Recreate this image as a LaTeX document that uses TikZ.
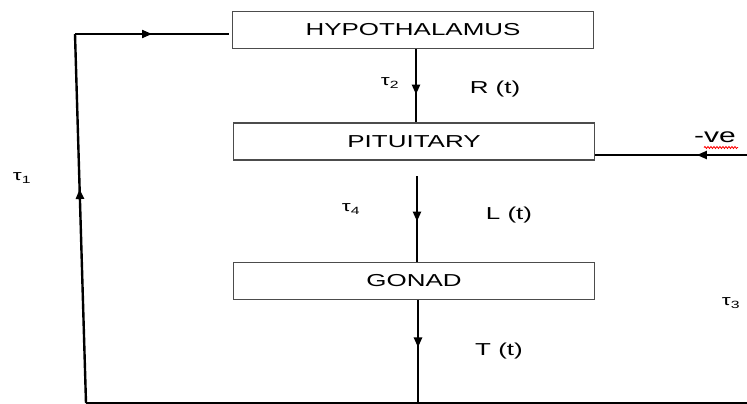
\documentclass[tikz,border=0pt]{standalone}
\usepackage{fontspec}
\setmainfont{Liberation Sans}[FakeStretch=1.5]
\usetikzlibrary{arrows.meta,decorations.markings,decorations.pathmorphing}
\begin{document}
\begin{tikzpicture}[x=1pt,y=-1pt,
  organ/.style={draw=black!70,line width=1.3pt,minimum width=361pt,minimum height=37pt,inner sep=0pt,font=\fontsize{17.3}{20}\selectfont},
  lbl/.style={inner sep=0pt,font=\fontsize{17.3}{20}\selectfont},
  tau/.style={inner sep=0pt,font=\fontsize{15}{17}\selectfont},
  conn/.style={line width=2.4pt,black},
  midarrow/.style={postaction={decorate},decoration={markings,
     mark=at position #1 with {\arrow{Triangle[length=10pt,width=8pt]}}}}]
\useasboundingbox (0,0) rectangle (747,404);
\node[organ] (hyp) at (413,30) {HYPOTHALAMUS};
\node[organ] (pit) at (414,141.5) {PITUITARY};
\node[organ] (gon) at (414,281) {GONAD};
\coordinate (tl) at (75,34);
\coordinate (bl) at (86,403);
\coordinate (br) at (747,403);
\coordinate (bm) at (418,403);
\coordinate (ps) at (417,176);
\coordinate (rin) at (747,155);
\coordinate (pr) at (595,155);
\coordinate (hl) at (229,34);
% connectors
\draw[conn,midarrow=0.62] (hyp.south -| 416,0) -- (pit.north -| 416,0);
\draw[conn,midarrow=0.53] (ps) -- (gon.north -| 417,0);
\draw[conn,midarrow=0.46] (gon.south -| 418,0) -- (bm);
\draw[line width=2pt] (bl) -- (br);
\draw[conn,midarrow=0.58] (bl) -- (tl);
\draw[line width=2pt,midarrow=0.5] (tl) -- (hl);
\draw[line width=2pt,midarrow=0.33] (rin) -- (pr);
% labels
\node[tau] (t1) at (22,178) {τ\textsubscript{1}};
\node[tau] (t2) at (390,83) {τ\textsubscript{2}};
\node[tau] (t3) at (731,303) {τ\textsubscript{3}};
\node[tau] (t4) at (351,209) {τ\textsubscript{4}};
\node[lbl] (rt) at (495,89) {R (t)};
\node[lbl] (lt) at (509,215) {L (t)};
\node[lbl] (tt) at (499,351) {T (t)};
\node[inner sep=0pt,font=\fontsize{20}{22}\selectfont] (ve) at (715,137) {-ve};
\draw[red,line width=0.8pt,decorate,decoration={snake,amplitude=1pt,segment length=3pt}] (704,147.5) -- (738,147.5);
\end{tikzpicture}
\end{document}
